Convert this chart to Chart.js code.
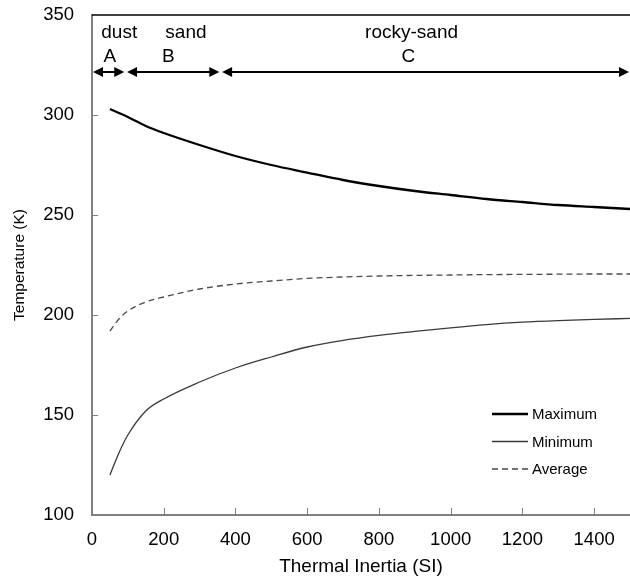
<!DOCTYPE html>
<html>
<head>
<meta charset="utf-8">
<script src="https://cdn.jsdelivr.net/npm/chart.js@4.4.1/dist/chart.umd.min.js"></script>
<style>
  body { margin: 0; background: #fff; }
  canvas { display: block; }
</style>
</head>
<body>
<canvas id="tempChart" width="630" height="581"></canvas>
<script>
// Temperature vs thermal inertia
const thermalInertia = [50, 75, 100, 150, 200, 300, 400, 500, 600, 700, 800, 900, 1000, 1100, 1200, 1300, 1400, 1500];
const maxTemp = [303, 301, 299, 294.5, 291, 285, 279.5, 275, 271.2, 267.5, 264.5, 262, 260, 258, 256.5, 255, 254, 253];
const minTemp = [120, 131, 140, 152, 158, 166.5, 173.5, 179, 184, 187.3, 189.8, 191.8, 193.6, 195.2, 196.4, 197.2, 197.8, 198.3];
const avgTemp = [192, 198, 202, 206.5, 209, 213, 215.5, 217, 218.3, 219, 219.5, 219.8, 220, 220.2, 220.3, 220.4, 220.5, 220.5];

const seriesNames = ['Maximum', 'Minimum', 'Average'];

// material zones (thermal inertia ranges)
const zoneNames = ['dust', 'sand', 'rocky-sand'];
const zoneLetters = ['A', 'B', 'C'];
const zoneStart = [0, 95, 360];
const zoneEnd = [90, 355, 1500];
const zoneNameAt = [76, 262, 891];
const zoneLetterAt = [50, 213, 882];

const FONT = "'Liberation Sans', Arial, sans-serif";

function toPoints(values) {
  return thermalInertia.map((x, i) => ({ x: x, y: values[i] }));
}

function line(ctx, x0, y0, x1, y1) {
  ctx.beginPath();
  ctx.moveTo(x0, y0);
  ctx.lineTo(x1, y1);
  ctx.stroke();
}

// ticks inside the plot, top frame, zone arrows and legend
const overlay = {
  id: 'overlay',
  afterDraw(chart) {
    const { ctx, chartArea: a, scales: { x, y } } = chart;
    ctx.save();

    ctx.strokeStyle = '#808080';
    ctx.lineWidth = 1;
    y.ticks.forEach(t => {
      if (t.value <= 100 || t.value >= 350) return;
      const py = Math.round(y.getPixelForValue(t.value)) + 0.5;
      line(ctx, a.left, py, a.left + 6, py);
    });
    x.ticks.forEach(t => {
      if (t.value <= 0 || t.value >= 1500) return;
      const px = Math.round(x.getPixelForValue(t.value)) + 0.5;
      line(ctx, px, a.bottom, px, a.bottom - 7);
    });

    ctx.strokeStyle = '#000';
    ctx.lineWidth = 1.5;
    line(ctx, a.left, a.top, a.right, a.top);

    // zone arrows
    const ay = y.getPixelForValue(321.5);
    const head = 10, half = 5;
    ctx.fillStyle = '#000';
    ctx.lineWidth = 2;
    zoneNames.forEach((name, i) => {
      const x0 = x.getPixelForValue(zoneStart[i]) + 1;
      const x1 = Math.min(x.getPixelForValue(zoneEnd[i]), a.right - 1);
      line(ctx, x0 + head - 1, ay, x1 - head + 1, ay);
      ctx.beginPath();
      ctx.moveTo(x0, ay); ctx.lineTo(x0 + head, ay - half); ctx.lineTo(x0 + head, ay + half);
      ctx.closePath(); ctx.fill();
      ctx.beginPath();
      ctx.moveTo(x1, ay); ctx.lineTo(x1 - head, ay - half); ctx.lineTo(x1 - head, ay + half);
      ctx.closePath(); ctx.fill();

      ctx.font = '19px ' + FONT;
      ctx.textAlign = 'center';
      ctx.textBaseline = 'alphabetic';
      ctx.fillText(name, x.getPixelForValue(zoneNameAt[i]), y.getPixelForValue(338.75));
      ctx.fillText(zoneLetters[i], x.getPixelForValue(zoneLetterAt[i]), y.getPixelForValue(326.5));
    });

    // legend
    chart.data.datasets.forEach((ds, i) => {
      const ly = 414 + i * 27.5;
      ctx.strokeStyle = ds.borderColor;
      ctx.lineWidth = ds.borderWidth;
      ctx.setLineDash(ds.borderDash || []);
      line(ctx, 492, ly, 528, ly);
      ctx.setLineDash([]);
      ctx.fillStyle = '#000';
      ctx.font = '15px ' + FONT;
      ctx.textAlign = 'left';
      ctx.textBaseline = 'middle';
      ctx.fillText(ds.label, 532, ly + 1);
    });

    ctx.restore();
  }
};

new Chart(document.getElementById('tempChart'), {
  type: 'line',
  data: {
    datasets: [
      {
        label: seriesNames[0],
        data: toPoints(maxTemp),
        borderColor: '#000000',
        borderWidth: 2.3,
        pointRadius: 0,
        cubicInterpolationMode: 'monotone'
      },
      {
        label: seriesNames[1],
        data: toPoints(minTemp),
        borderColor: '#3a3a3a',
        borderWidth: 1.3,
        pointRadius: 0,
        cubicInterpolationMode: 'monotone'
      },
      {
        label: seriesNames[2],
        data: toPoints(avgTemp),
        borderColor: '#4a4a4a',
        borderWidth: 1.3,
        borderDash: [6, 4],
        pointRadius: 0,
        cubicInterpolationMode: 'monotone'
      }
    ]
  },
  options: {
    responsive: false,
    animation: false,
    devicePixelRatio: 1,
    layout: { padding: { top: 15, right: 0, left: 0, bottom: 0 } },
    plugins: {
      legend: { display: false },
      tooltip: { enabled: false }
    },
    scales: {
      x: {
        type: 'linear',
        min: 0,
        max: 1500,
        afterFit: s => { s.height = 66; s.paddingRight = 0; s.paddingLeft = 0; },
        border: { color: '#808080', width: 2 },
        grid: { drawOnChartArea: false, drawTicks: false },
        ticks: {
          stepSize: 200,
          includeBounds: false,
          padding: 14,
          color: '#000',
          font: { family: FONT, size: 18.5 },
          maxRotation: 0,
          callback: v => String(v)
        },
        title: {
          display: true,
          text: 'Thermal Inertia (SI)',
          color: '#000',
          font: { family: FONT, size: 19 },
          padding: { top: 0, bottom: 3 }
        }
      },
      y: {
        min: 100,
        max: 350,
        afterFit: s => { s.width = 92; s.paddingTop = 0; s.paddingBottom = 0; },
        border: { color: '#808080', width: 2 },
        grid: { drawOnChartArea: false, drawTicks: false },
        ticks: {
          stepSize: 50,
          padding: 18,
          color: '#000',
          font: { family: FONT, size: 18.5 }
        },
        title: {
          display: true,
          text: 'Temperature (K)',
          color: '#000',
          font: { family: FONT, size: 15.5 },
          padding: { top: 10, bottom: 0 }
        }
      }
    }
  },
  plugins: [overlay]
});
</script>
</body>
</html>
